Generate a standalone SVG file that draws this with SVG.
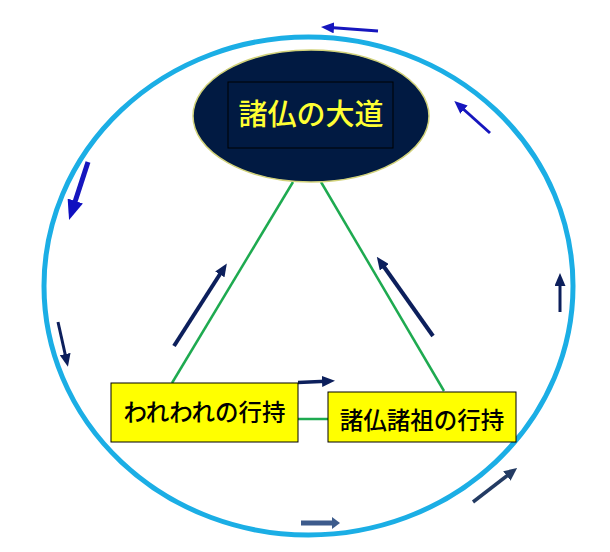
<svg xmlns="http://www.w3.org/2000/svg" width="610" height="552" viewBox="0 0 610 552">
<style>
.cjk{font-family:"Noto Sans CJK JP","Noto Sans CJK SC",sans-serif;font-weight:500}
.green{stroke:#1EAA50;stroke-width:2.5;fill:none}
.arr{fill:none;stroke-linecap:butt}
.blue{stroke:#1616BE}
.navy{stroke:#0C1F5C}
.slate{stroke:#233B63}
.steel{stroke:#3D5B8C}
</style>
<defs>
<marker id="m-blue" markerUnits="userSpaceOnUse" viewBox="0 0 13 11" markerWidth="13" markerHeight="11" refX="4" refY="5.5" orient="auto"><path d="M0,0 L13,5.5 L0,11 z" fill="#1616BE"/></marker>
<marker id="m-blue-big" markerUnits="userSpaceOnUse" viewBox="0 0 20 16" markerWidth="20" markerHeight="16" refX="6" refY="8" orient="auto"><path d="M0,0 L20,8 L0,16 z" fill="#1010C0"/></marker>
<marker id="m-navy" markerUnits="userSpaceOnUse" viewBox="0 0 13 11" markerWidth="13" markerHeight="11" refX="4" refY="5.5" orient="auto"><path d="M0,0 L13,5.5 L0,11 z" fill="#0C1F5C"/></marker>
<marker id="m-slate" markerUnits="userSpaceOnUse" viewBox="0 0 13 12" markerWidth="13" markerHeight="12" refX="4" refY="6" orient="auto"><path d="M0,0 L13,6 L0,12 z" fill="#233B63"/></marker>
<marker id="m-steel" markerUnits="userSpaceOnUse" viewBox="0 0 8 12" markerWidth="8" markerHeight="12" refX="3" refY="6" orient="auto"><path d="M0,0 L8,6 L0,12 z" fill="#3D5B8C"/></marker>
</defs>
<rect width="610" height="552" fill="#ffffff"/>
<ellipse id="ring" cx="308.5" cy="286" rx="264.5" ry="249" fill="none" stroke="#1BAEE5" stroke-width="5"/>
<g id="connectors">
<line class="green" x1="293" y1="182" x2="172" y2="383"/>
<line class="green" x1="321" y1="182" x2="444" y2="391"/>
<line class="green" x1="298" y1="419" x2="328" y2="419"/>
<line class="arr blue" stroke-width="3" x1="378" y1="31" x2="330" y2="27.6" marker-end="url(#m-blue)"/>
<line class="arr blue" stroke-width="3" x1="490" y1="133" x2="461" y2="107" marker-end="url(#m-blue)"/>
<line class="arr blue" stroke-width="5" x1="88" y1="162" x2="73.4" y2="206.7" marker-end="url(#m-blue-big)"/>
<line class="arr navy" stroke-width="3" x1="58" y1="322" x2="66" y2="358" marker-end="url(#m-navy)"/>
<line class="arr navy" stroke-width="4" x1="174" y1="346" x2="222" y2="271" marker-end="url(#m-navy)"/>
<line class="arr navy" stroke-width="4" x1="433" y1="336" x2="382" y2="264" marker-end="url(#m-navy)"/>
<line class="arr navy" stroke-width="3" x1="560" y1="312" x2="560" y2="282" marker-end="url(#m-navy)"/>
<line class="arr navy" stroke-width="3.5" x1="298" y1="382.5" x2="326" y2="381.2" marker-end="url(#m-navy)"/>
<line class="arr slate" stroke-width="3.5" x1="473" y1="502" x2="510" y2="473.5" marker-end="url(#m-slate)"/>
<line class="arr steel" stroke-width="5" x1="301" y1="523" x2="335" y2="523" marker-end="url(#m-steel)"/>
</g>
<g id="node-daido">
<ellipse cx="311" cy="116" rx="118" ry="66" fill="#011A42" stroke="#D2D27A" stroke-width="1.5"/>
<rect x="228" y="82" width="165" height="66" fill="none" stroke="#000000" stroke-width="1"/>
<text class="cjk" x="311" y="125" text-anchor="middle" font-size="29" fill="#FFFF33">諸仏の大道</text>
</g>
<g id="node-warera">
<rect x="111" y="383" width="187" height="59" fill="#FFFF00" stroke="#000000" stroke-width="1"/>
<text class="cjk" x="204.5" y="421" text-anchor="middle" font-size="23.5" fill="#000000">われわれの行持</text>
</g>
<g id="node-shobutsu">
<rect x="328" y="392" width="188" height="50" fill="#FFFF00" stroke="#000000" stroke-width="1"/>
<text class="cjk" x="422" y="429" text-anchor="middle" font-size="23.5" fill="#000000">諸仏諸祖の行持</text>
</g>
</svg>
